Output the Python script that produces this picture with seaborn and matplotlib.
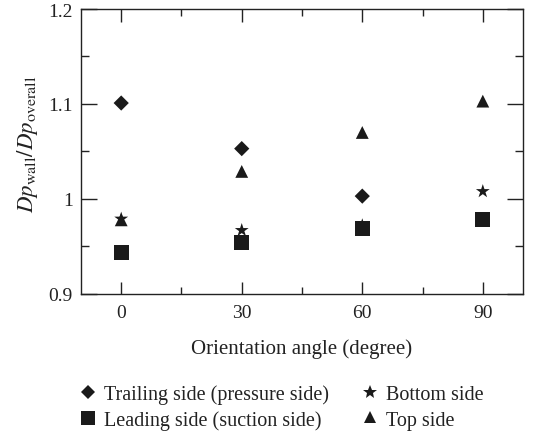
import numpy as np
import pandas as pd
import matplotlib
matplotlib.use("Agg")
import matplotlib.pyplot as plt
from matplotlib.lines import Line2D
from matplotlib.ticker import MultipleLocator, FuncFormatter
import seaborn as sns

angles = [0, 30, 60, 90]
trailing = [1.101, 1.053, 1.003, np.nan]
leading = [0.944, 0.954, 0.969, 0.978]
bottom = [0.979, 0.967, 0.972, 1.008]
top = [0.978, 1.029, 1.070, 1.103]

labels = ["Trailing side (pressure side)", "Leading side (suction side)",
          "Bottom side", "Top side"]

sns.set_theme(style="ticks")
plt.rcParams['font.family'] = ['Liberation Serif', 'DejaVu Serif']
plt.rcParams['mathtext.fontset'] = 'stix'

fig = plt.figure(figsize=(5.38, 4.35), dpi=100)
ax = fig.add_axes([0.1506, 0.322, 0.9721 - 0.1506, 0.977 - 0.322])

series = [
    ("Trailing side (pressure side)", trailing, "D", 60),
    ("Top side", top, "^", 85),
    ("Bottom side", bottom, "*", 110),
    ("Leading side (suction side)", leading, "s", 118),
]
marker_of = {}
for name, vals, m, s in series:
    df = pd.DataFrame({"angle": angles, "value": vals})
    sns.scatterplot(data=df, x="angle", y="value", marker=m, s=s,
                    color="#1a1a1a", edgecolor="none", linewidth=0, ax=ax, legend=False)
    marker_of[name] = (m, s)

ax.set_xlim(-10, 100)
ax.set_ylim(0.9, 1.2)
ax.xaxis.set_major_locator(MultipleLocator(30))
ax.xaxis.set_minor_locator(MultipleLocator(15))
ax.yaxis.set_major_locator(MultipleLocator(0.1))
ax.yaxis.set_minor_locator(MultipleLocator(0.05))
ax.yaxis.set_major_formatter(FuncFormatter(lambda v, p: ("%g" % round(v, 2))))

for sp in ax.spines.values():
    sp.set_color("#222222")
    sp.set_linewidth(1.0)
ax.tick_params(axis='both', which='both', direction='in', top=True, right=True,
               colors="#222222", labelcolor="#222222", labelsize=14, width=1.0)
ax.tick_params(axis='y', which='major', length=11.5, pad=6)
ax.tick_params(axis='y', which='minor', length=6)
ax.tick_params(axis='x', which='major', length=9, pad=7)
ax.tick_params(axis='x', which='minor', length=5)

ax.set_xlabel("Orientation angle (degree)", fontsize=15, color="#222222", labelpad=13)
ax.set_ylabel(r"$Dp_{\rm wall}/Dp_{\rm overall}$", fontsize=16.5, color="#222222")
ax.yaxis.set_label_coords(-0.093, 0.53)

handles = []
for name in labels:
    m, s = marker_of[name]
    ms = {"D": 7.5, "s": 10.5, "*": 10, "^": 8.5}[m]
    handles.append(Line2D([], [], linestyle="none", marker=m, markersize=ms,
                          color="#1a1a1a", markeredgewidth=0))
fig.legend(handles, labels, loc="upper left", bbox_to_anchor=(0.126, 0.132),
           ncol=2, frameon=False, fontsize=14.5, handletextpad=0.2,
           columnspacing=1.45, labelspacing=0.3, handlelength=1.2,
           borderaxespad=0, labelcolor="#222222")

fig.savefig("out.png", dpi=100)
